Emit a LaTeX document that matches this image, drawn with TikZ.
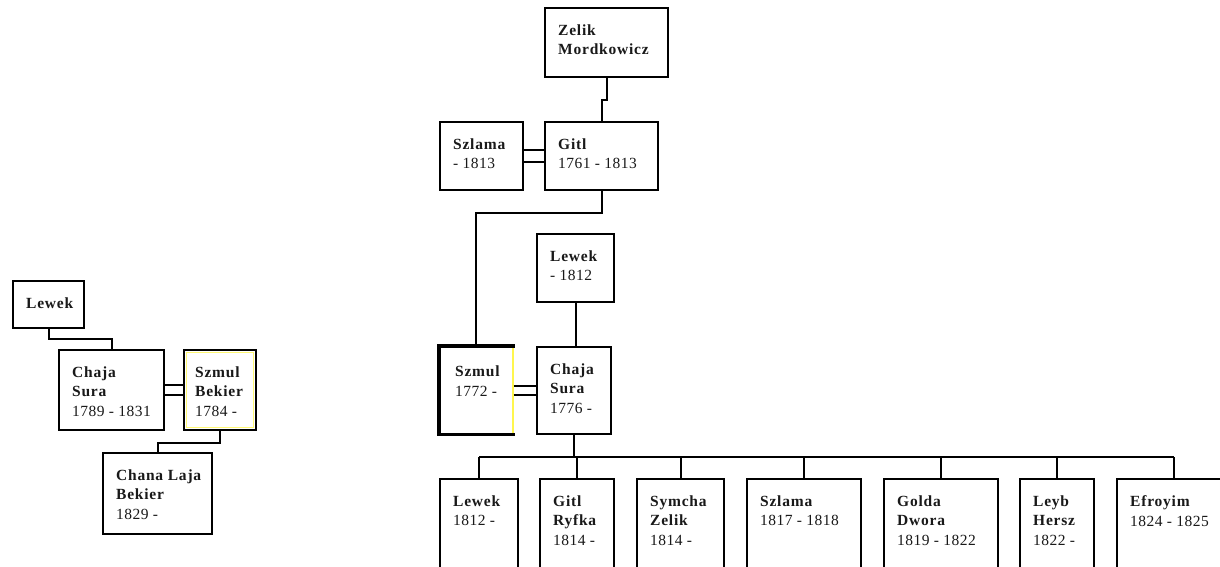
\documentclass[tikz,border=0pt]{standalone}
\usepackage{fontspec}
\setmainfont{Liberation Serif}[LetterSpace=3]
\newfontfamily\nmfont[LetterSpace=5]{Liberation Serif}
\newcommand{\nm}[1]{{\nmfont\bfseries #1}}
\tikzset{
  pbox/.style={draw=black, line width=2pt, fill=white, inner sep=0pt, anchor=north west},
  ptext/.style={inner sep=0pt, anchor=north west, align=left, text=black!90,
    font=\fontsize{15.5}{19.5}\selectfont},
  conn/.style={draw=black, line width=2pt},
}
\newcommand{\pers}[6]{%
  \node[pbox, minimum width=#4pt, minimum height=#5pt] (#1) at (#2,#3) {};
  \node[ptext] (#1t) at ([shift={(14,17.5)}]#1.north west) {#6};
}
\begin{document}
\begin{tikzpicture}[x=1pt,y=-1pt]
\clip (0,0) rectangle (1220,566);
\fill[white] (0,0) rectangle (1220,566);

% left cluster
\pers{L1}{12}{280}{71}{47}{\nm{Lewek}}
\pers{L2}{58}{349}{105}{80}{\nm{Chaja}\\\nm{Sura}\\1789 - 1831}
\node[pbox, minimum width=72pt, minimum height=80pt] (L3) at (183,349) {};
\draw[yellow!55!white, line width=1.6pt] ([shift={(3.5,3.5)}]L3.north west) rectangle ([shift={(-3.5,-3.5)}]L3.south east);
\node[ptext] (L3t) at ([shift={(12,17.5)}]L3.north west) {\nm{Szmul}\\\nm{Bekier}\\1784 -};
\pers{L4}{102}{452}{109}{81}{\nm{Chana Laja}\\\nm{Bekier}\\1829 -}

\draw[conn] (L1.south) -- ++(0,10) -| (L2.north);
\draw[conn] ([yshift=5pt]L2.east) -- ([yshift=5pt]L2.east -| L3.west);
\draw[conn] ([yshift=-5pt]L2.east) -- ([yshift=-5pt]L2.east -| L3.west);
\draw[conn] (L3.south) -- ++(0,12) -| (L4.north);

% right cluster
\pers{R1}{544}{7}{123}{69}{\nm{Zelik}\\\nm{Mordkowicz}}
\pers{R2}{439}{121}{83}{68}{\nm{Szlama}\\- 1813}
\pers{R3}{544}{121}{113}{68}{\nm{Gitl}\\1761 - 1813}
\pers{R4}{536}{233}{77}{68}{\nm{Lewek}\\- 1812}
\node[draw=yellow!70!white, line width=1.5pt, fill=white, inner sep=0pt, anchor=north west,
  minimum width=73pt, minimum height=87pt] (R5) at (439,346) {};
\draw[black, line width=3.6pt, line cap=rect] (R5.north east) -- (R5.north west) -- (R5.south west) -- (R5.south east);
\node[ptext] (R5t) at ([shift={(16,20)}]R5.north west) {\nm{Szmul}\\1772 -};
\pers{R6}{536}{346}{74}{87}{\nm{Chaja}\\\nm{Sura}\\1776 -}

\draw[conn] (R1.south) -- ++(0,22) -| (R3.north);
\draw[conn] ([yshift=6pt]R2.east) -- ([yshift=6pt]R2.east -| R3.west);
\draw[conn] ([yshift=-6pt]R2.east) -- ([yshift=-6pt]R2.east -| R3.west);
\draw[conn] (R3.south) -- ++(0,22) -| (R5.north);
\draw[conn] (R4.south) -- (R4.south |- R6.north);
\draw[conn] ([yshift=4.5pt]R5.east) -- ([yshift=4.5pt]R5.east -| R6.west);
\draw[conn] ([yshift=-4.5pt]R5.east) -- ([yshift=-4.5pt]R5.east -| R6.west);

% children
\pers{C1}{439}{478}{78}{110}{\nm{Lewek}\\1812 -}
\pers{C2}{539}{478}{74}{110}{\nm{Gitl}\\\nm{Ryfka}\\1814 -}
\pers{C3}{636}{478}{87}{110}{\nm{Symcha}\\\nm{Zelik}\\1814 -}
\pers{C4}{746}{478}{114}{110}{\nm{Szlama}\\1817 - 1818}
\pers{C5}{883}{478}{114}{110}{\nm{Golda}\\\nm{Dwora}\\1819 - 1822}
\pers{C6}{1019}{478}{74}{110}{\nm{Leyb}\\\nm{Hersz}\\1822 -}
\pers{C7}{1116}{478}{114}{110}{\nm{Efroyim}\\1824 - 1825}

\coordinate (bus) at ([yshift=-22pt]R6.south);
\draw[conn] (R6.south) -- (bus);
\draw[conn] (bus -| C1.north) -- (bus -| C7.north);
\foreach \c in {C1,C2,C3,C4,C5,C6,C7}{
  \draw[conn] (bus -| \c.north) -- (\c.north);
}
\end{tikzpicture}
\end{document}
